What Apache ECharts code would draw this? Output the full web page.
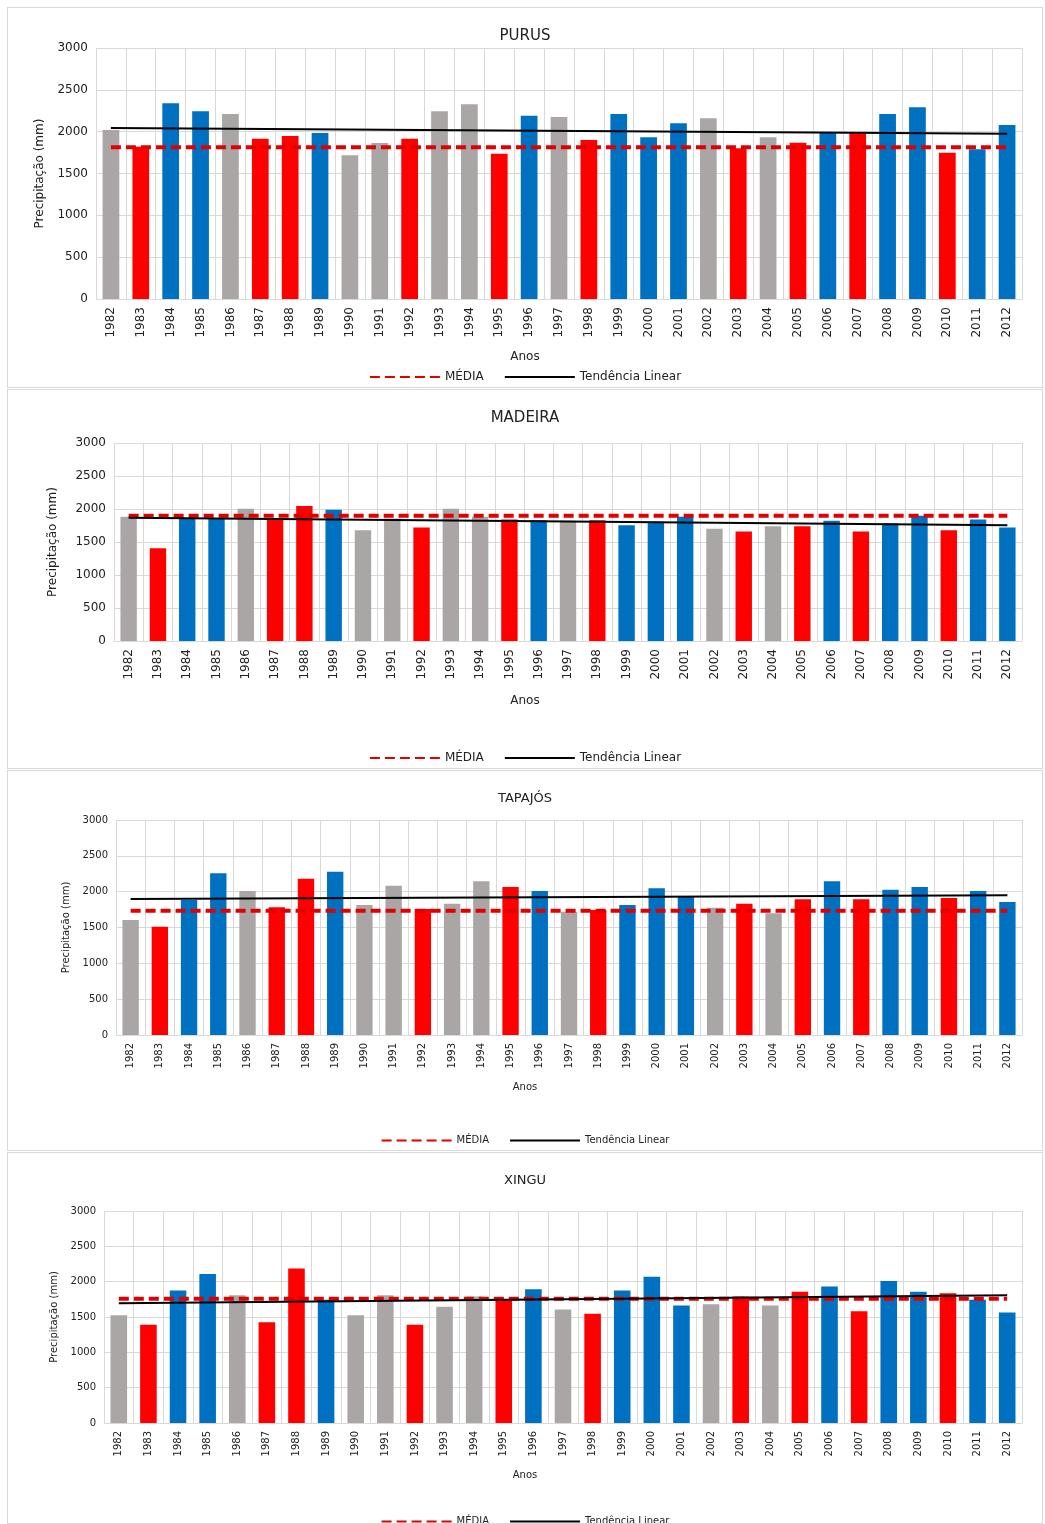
<!DOCTYPE html>
<html>
<head>
<meta charset="utf-8">
<script src="https://cdn.jsdelivr.net/npm/echarts@6/dist/echarts.min.js"></script>
<style>
body { margin:0; background:#fff; }
.painel { position:absolute; left:7px; width:1036px; border:1px solid #d9d9d9; box-sizing:border-box; }
</style>
</head>
<body>
<div class="painel" id="c1" style="top:7px;height:381px"></div>
<div class="painel" id="c2" style="top:389px;height:380px"></div>
<div class="painel" id="c3" style="top:770px;height:381px"></div>
<div class="painel" id="c4" style="top:1152px;height:372px"></div>
<script>
const anos = ['1982','1983','1984','1985','1986','1987','1988','1989','1990','1991','1992','1993','1994','1995','1996','1997','1998','1999','2000','2001','2002','2003','2004','2005','2006','2007','2008','2009','2010','2011','2012'];
// classe de cada ano: n = neutro (cinza), s = seco (vermelho), c = chuvoso (azul)
const classes = ['n','s','c','c','n','s','s','c','n','n','s','n','n','s','c','n','s','c','c','c','n','s','n','s','c','s','c','c','s','c','c'];
const cores = { n:'#aaa6a6', s:'#ff0000', c:'#0070c0' };

const purus = [2020,1820,2339,2243,2211,1916,1948,1984,1717,1865,1916,2243,2327,1737,2191,2175,1900,2211,1932,2100,2159,1801,1932,1869,1996,1996,2211,2291,1749,1789,2080];
const madeira = [1881,1407,1856,1856,2002,1856,2047,1987,1679,1856,1720,2002,1881,1841,1831,1821,1831,1755,1805,1881,1700,1659,1740,1740,1821,1659,1780,1896,1679,1841,1720];
const tapajos = [1605,1512,1884,2256,2009,1781,2181,2279,1814,2084,1758,1833,2144,2065,2009,1721,1744,1814,2047,1940,1777,1833,1698,1893,2144,1893,2028,2065,1912,2009,1856];
const xingu = [1526,1390,1875,2110,1809,1427,2186,1743,1526,1809,1390,1644,1790,1743,1894,1606,1545,1875,2068,1663,1682,1790,1663,1856,1931,1583,2011,1856,1837,1743,1564];

const medias = [1813, 1896, 1735, 1757];
// tendência linear: valor no primeiro e no último ano
const tendIni = [2044, 1866, 1898, 1696];
const tendFim = [1976, 1755, 1949, 1809];

const nomes = ['PURUS','MADEIRA','TAPAJÓS','XINGU'];
const dados = [purus, madeira, tapajos, xingu];

// ajustes de layout de cada painel
const layouts = [
  { grid:{left:88,right:20,top:40,bottom:88}, fonte:12, anosY:343, legY:358, gap:50 },
  { grid:{left:106,right:20,top:53,bottom:127}, fonte:12, anosY:305, legY:357, gap:55 },
  { grid:{left:108,right:20,top:49,bottom:115}, fonte:10, anosY:311, legY:359, gap:40 },
  { grid:{left:96,right:20,top:58,bottom:100}, fonte:10, anosY:317, legY:358, gap:38 }
];

const pontas = (a, b) => anos.map((x, i) => i === 0 ? a : (i === anos.length - 1 ? b : null));

graficar = (idx) => {
  const L = layouts[idx];
  const chart = echarts.init(document.getElementById('c' + (idx + 1)));
  const option = {
    animation: false,
    textStyle: { fontFamily: 'DejaVu Sans' },
    title: { text: nomes[idx], left: 'center', top: 16, textStyle: { fontSize: idx < 2 ? 15 : 13, fontWeight: 'normal', color: '#222' } },
    legend: {
      top: L.legY, left: 'center', itemWidth: 70, itemGap: 20,
      itemStyle: { opacity: 0 },
      textStyle: { fontSize: L.fonte, color: '#222' },
      data: ['MÉDIA', 'Tendência Linear']
    },
    graphic: [{ type: 'text', left: 'center', top: L.anosY, style: { text: 'Anos', fontSize: L.fonte, fill: '#222', fontFamily: 'DejaVu Sans' } }],
    grid: L.grid,
    xAxis: {
      type: 'category', data: anos,
      axisLine: { lineStyle: { color: '#d9d9d9' } },
      axisTick: { show: false },
      splitLine: { show: true, lineStyle: { color: '#d9d9d9' } },
      axisLabel: { rotate: 90, interval: 0, fontSize: L.fonte, color: '#222' }
    },
    yAxis: {
      type: 'value', min: 0, max: 3000, interval: 500,
      name: 'Precipitação (mm)', nameLocation: 'middle', nameGap: L.gap,
      nameTextStyle: { fontSize: L.fonte, color: '#222' },
      axisLabel: { fontSize: L.fonte, color: '#222', formatter: v => String(v) },
      splitLine: { lineStyle: { color: '#d9d9d9' } }
    },
    series: [
      {
        type: 'bar', barWidth: '56%',
        data: dados[idx].map((v, i) => ({ value: v, itemStyle: { color: cores[classes[i]] } }))
      },
      {
        name: 'MÉDIA', type: 'line', symbol: 'none', connectNulls: true,
        data: pontas(medias[idx], medias[idx]),
        lineStyle: { color: '#e00000', width: 4, type: [10, 5] },
        itemStyle: { color: '#e00000' }
      },
      {
        name: 'Tendência Linear', type: 'line', symbol: 'none', connectNulls: true,
        data: pontas(tendIni[idx], tendFim[idx]),
        lineStyle: { color: '#000', width: 2 },
        itemStyle: { color: '#000' }
      }
    ]
  };
  chart.setOption(option);
}

[0, 1, 2, 3].forEach(graficar);
</script>
</body>
</html>
